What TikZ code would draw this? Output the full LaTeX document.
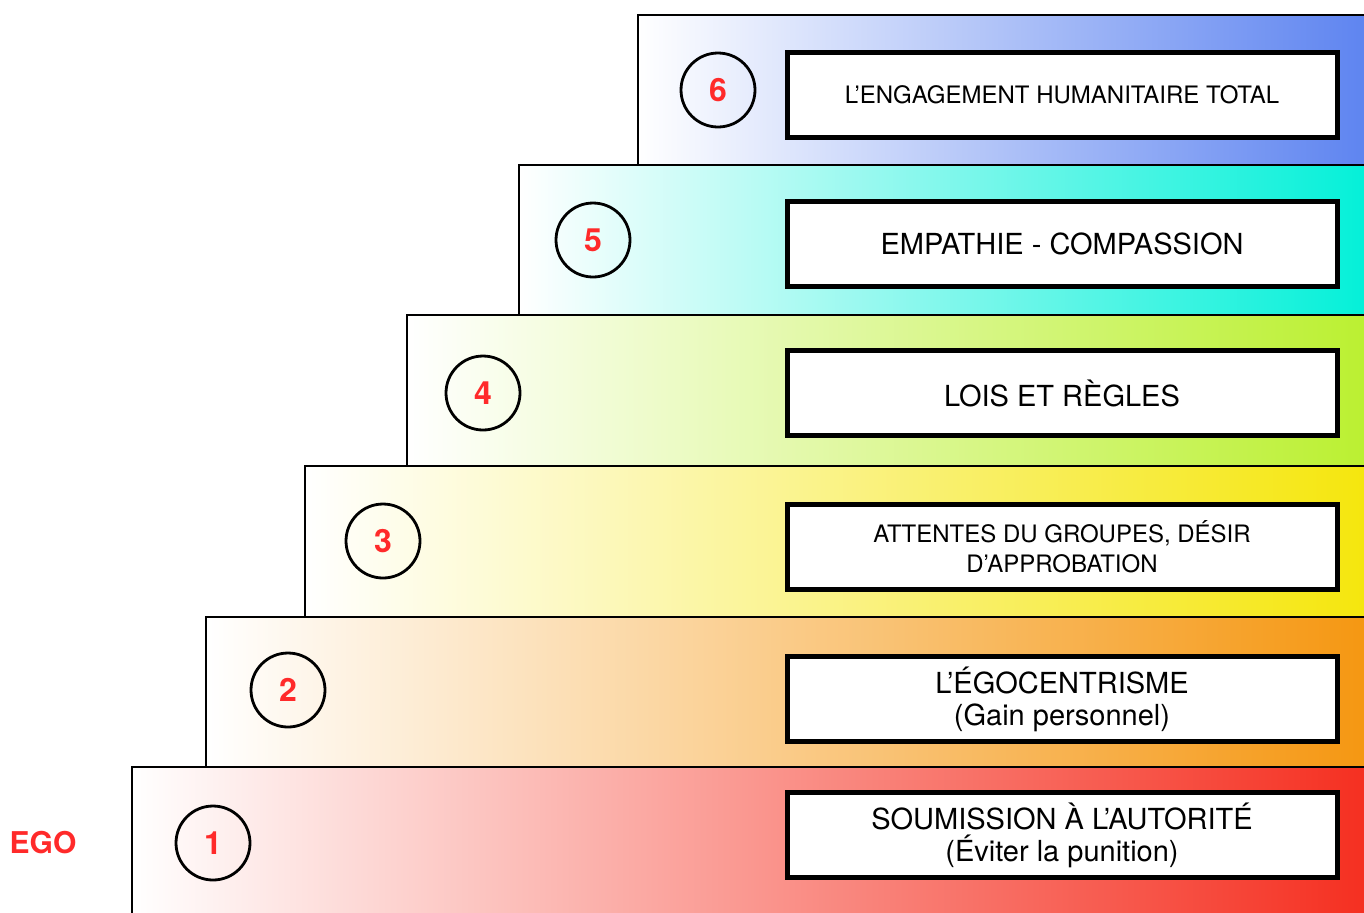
\documentclass[tikz,border=0pt]{standalone}
\usepackage{fontspec}
\setmainfont{TeX Gyre Heros}
\definecolor{lvlsix}{HTML}{5B82F0}
\definecolor{lvlfive}{HTML}{00F0D8}
\definecolor{lvlfour}{HTML}{BAF02E}
\definecolor{lvlthree}{HTML}{F5E60A}
\definecolor{lvltwo}{HTML}{F5960F}
\definecolor{lvlone}{HTML}{F52D1E}
\definecolor{numred}{HTML}{FF2A2A}
\tikzset{
  stepbar/.style={draw=black,line width=1pt,left color=white,right color=#1},
  numcirc/.style={circle,draw=black,line width=1.4pt,minimum size=37pt,inner sep=0pt,
    text=numred,font=\bfseries\fontsize{16}{16}\selectfont},
  lblbox/.style={draw=black,fill=white,line width=2.5pt,minimum width=275pt,
    minimum height=42.5pt,align=center,inner sep=2pt,font=\fontsize{14.5}{16}\selectfont},
  smalltxt/.style={font=\fontsize{12}{15}\selectfont},
}
\begin{document}
\begin{tikzpicture}[x=0.5pt,y=-0.5pt]
\useasboundingbox (0,0) rectangle (1364,912);
\clip (0,0) rectangle (1364,912);
% the six steps
\draw[stepbar=lvlone]   (132,767) rectangle (1380,940);
\draw[stepbar=lvltwo]   (206,617) rectangle (1380,767);
\draw[stepbar=lvlthree] (305,466) rectangle (1380,617);
\draw[stepbar=lvlfour]  (407,315) rectangle (1380,466);
\draw[stepbar=lvlfive]  (519,165) rectangle (1380,315);
\draw[stepbar=lvlsix]   (638,15)  rectangle (1380,165);
% numbers
\node[numcirc] (num1) at (213,843) {1};
\node[numcirc] (num2) at (288,690) {2};
\node[numcirc] (num3) at (383,541) {3};
\node[numcirc] (num4) at (483,393) {4};
\node[numcirc] (num5) at (593,240) {5};
\node[numcirc] (num6) at (718,90)  {6};
% labels
\node[lblbox] (lbl1) at (1062,835) {SOUMISSION À L’AUTORITÉ\\(Éviter la punition)};
\node[lblbox] (lbl2) at (1062,699) {L’ÉGOCENTRISME\\(Gain personnel)};
\node[lblbox,smalltxt] (lbl3) at (1062,547) {ATTENTES DU GROUPES, DÉSIR\\D’APPROBATION};
\node[lblbox] (lbl4) at (1062,393) {LOIS ET RÈGLES};
\node[lblbox] (lbl5) at (1062,244) {EMPATHIE - COMPASSION};
\node[lblbox,smalltxt] (lbl6) at (1062,95) {L’ENGAGEMENT HUMANITAIRE TOTAL};
\node[text=numred,font=\bfseries\fontsize{15}{15}\selectfont] (ego) at (43,843) {EGO};
\end{tikzpicture}
\end{document}
